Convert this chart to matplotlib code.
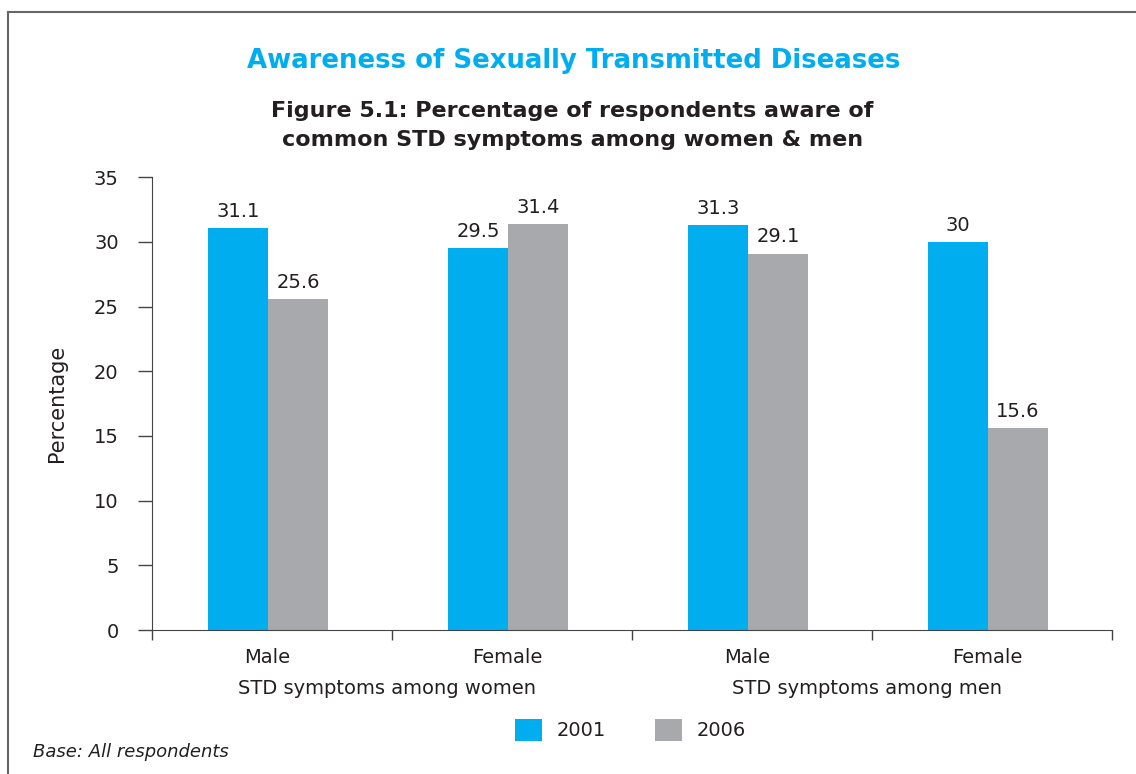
import numpy as np
import matplotlib
matplotlib.use('Agg')
import matplotlib.pyplot as plt
from matplotlib.lines import Line2D

# values
groups = ['STD symptoms among women', 'STD symptoms among men']
categories = ['Male', 'Female', 'Male', 'Female']
vals_2001 = [31.1, 29.5, 31.3, 30]
vals_2006 = [25.6, 31.4, 29.1, 15.6]
years = ['2001', '2006']

blue = '#00AEEF'
grey = '#A7A9AC'
txt = '#231F20'

plt.rcParams['font.family'] = ['DejaVu Sans']

fig = plt.figure(figsize=(11.36, 7.74), dpi=100)
ax = fig.add_axes([0.1338, 0.186, 0.845, 0.585])

x = np.arange(len(categories)) - 0.017
w = 0.25
b1 = ax.bar(x - w / 2, vals_2001, w, color=blue, label=years[0])
b2 = ax.bar(x + w / 2, vals_2006, w, color=grey, label=years[1])
for bars, vals in [(b1, vals_2001), (b2, vals_2006)]:
    for r, v in zip(bars, vals):
        ax.text(r.get_x() + r.get_width() / 2, v + 0.55, f'{v:g}', ha='center', va='bottom',
                fontsize=14, color=txt)

ax.set_xlim(-0.5, len(categories) - 0.5)
ax.set_ylim(0, 35)
ax.set_yticks(range(0, 36, 5))
ax.set_xticks(np.arange(-0.5, len(categories), 1))
ax.set_xticklabels([])
ax.tick_params(axis='x', direction='out', length=7, width=1, color='#444444')
ax.tick_params(axis='y', direction='out', length=10, width=1, color='#444444',
               labelsize=14, labelcolor=txt, pad=14)
for s in ['top', 'right']:
    ax.spines[s].set_visible(False)
for s in ['left', 'bottom']:
    ax.spines[s].set_color('#444444')
ax.set_ylabel('Percentage', fontsize=15, color=txt, labelpad=19)

for i, c in enumerate(categories):
    ax.text(i - 0.02, -1.4, c, ha='center', va='top', fontsize=14, color=txt)
for j, g in enumerate(groups):
    ax.text(2 * j + 0.48, -3.8, g, ha='center', va='top', fontsize=14, color=txt)

leg = fig.legend(handles=[b1, b2], labels=years, loc='center', bbox_to_anchor=(0.555, 0.057),
                 ncol=2, frameon=False, fontsize=14, handlelength=1.4, handleheight=1.4,
                 columnspacing=2.5, handletextpad=0.75)
for t in leg.get_texts():
    t.set_color(txt)

fig.text(0.505, 0.921, 'Awareness of Sexually Transmitted Diseases', ha='center', va='center',
         fontsize=18.7, color=blue, fontweight='bold')
fig.text(0.504, 0.838, 'Figure 5.1: Percentage of respondents aware of\ncommon STD symptoms among women & men',
         ha='center', va='center', fontsize=16, color=txt, fontweight='bold', linespacing=1.55)
fig.text(0.029, 0.028, 'Base: All respondents', ha='left', va='center', fontsize=13,
         color=txt, style='italic')

# open frame around the figure
fig.add_artist(Line2D([0.007, 1.0], [0.984, 0.984], color='#666666', lw=1.5, transform=fig.transFigure))
fig.add_artist(Line2D([0.007, 0.007], [0.0, 0.984], color='#666666', lw=1.5, transform=fig.transFigure))

fig.savefig('out.png', dpi=100)
